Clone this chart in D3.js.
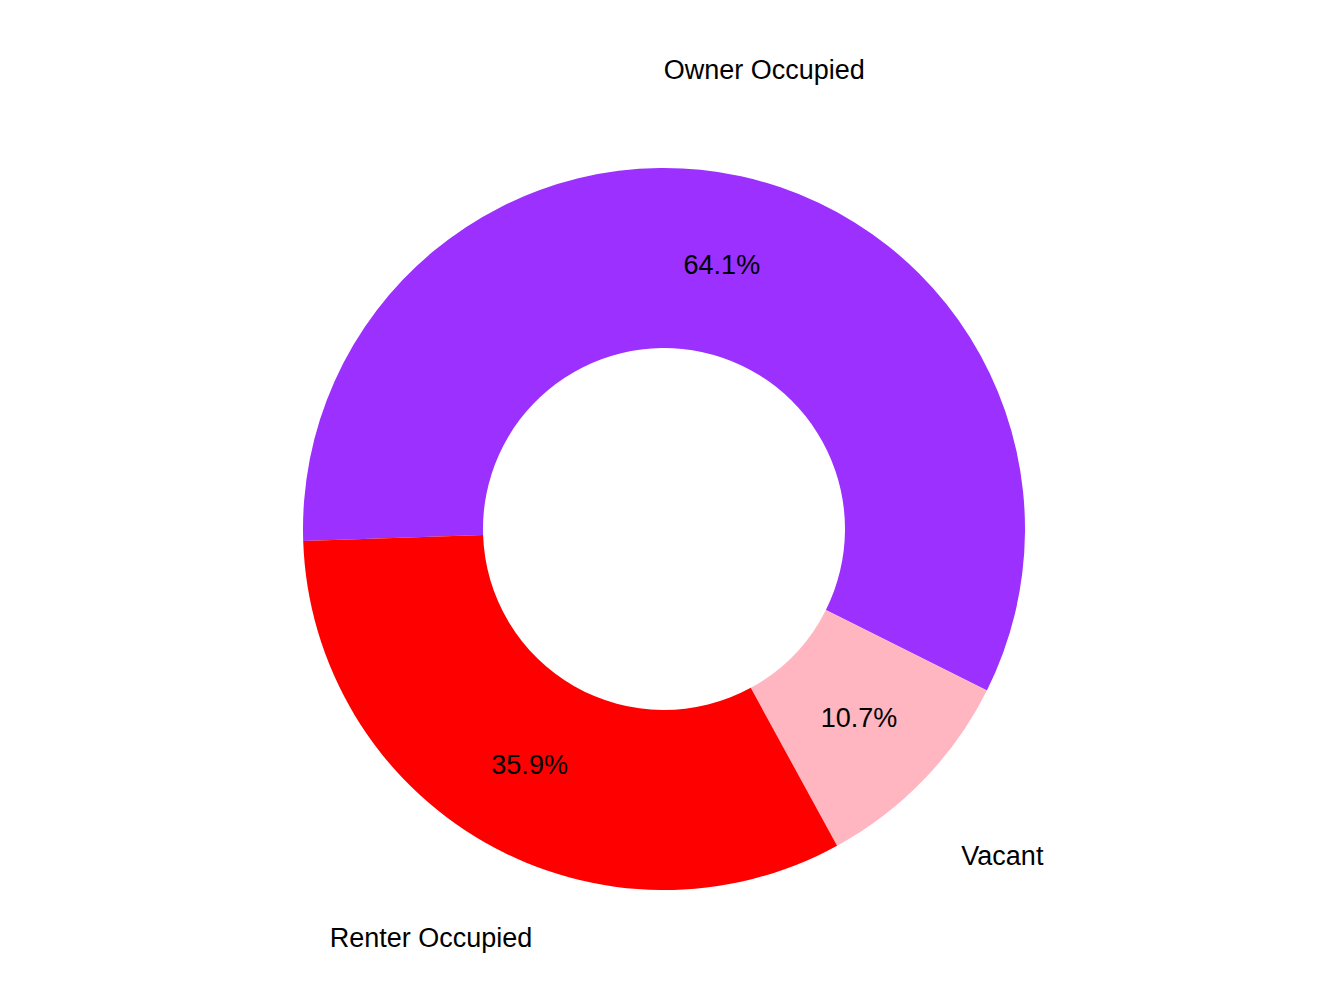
<!DOCTYPE html><html><head><script src="https://cdn.jsdelivr.net/npm/d3@7"></script>
<style>body{margin:0;background:#fff}</style></head><body><svg id="c" width="1344" height="1008"></svg>
<script>
const categories=["Owner Occupied","Vacant","Renter Occupied"];
const values=[64.1,10.7,35.9];
const labels=["64.1%","10.7%","35.9%"];
const colors=["#9B30FF","#FFB6C1","#FF0000"];
const svg=d3.select("#c"),g=svg.append("g").attr("transform","translate(664,529)");
const start=-91.9*Math.PI/180;
const pie=d3.pie().sort(null).startAngle(start).endAngle(start+2*Math.PI)(values);
const arc=d3.arc().innerRadius(181).outerRadius(361);
g.selectAll("path").data(pie).join("path").attr("d",arc).attr("fill",(d,i)=>colors[i]);
const mid=d3.arc().innerRadius(271).outerRadius(271);
const out=d3.arc().innerRadius(470).outerRadius(470);
const f="Liberation Sans, Arial, sans-serif";
g.selectAll(".p").data(pie).join("text").attr("transform",d=>`translate(${mid.centroid(d)})`)
 .attr("text-anchor","middle").attr("dy","0.35em").style("font",`27px ${f}`).text((d,i)=>labels[i]);
g.selectAll(".c").data(pie).join("text").attr("transform",d=>`translate(${out.centroid(d)})`)
 .attr("text-anchor","middle").attr("dy","0.35em").style("font",`27px ${f}`).text((d,i)=>categories[i]);
</script></body></html>
